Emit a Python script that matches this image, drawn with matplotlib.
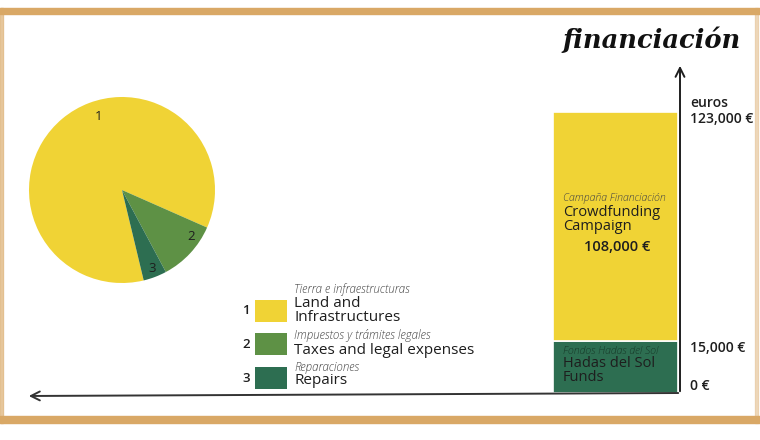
import numpy as np
import matplotlib
matplotlib.use('Agg')
import matplotlib.pyplot as plt
from matplotlib.patches import Rectangle

plt.rcParams['font.family'] = ['Open Sans', 'DejaVu Sans']

# pie: cost breakdown (euros)
cost_ids = ['1', '2', '3']
cost_values = [105000, 13000, 5000]
cost_es = ['Tierra e infraestructuras', 'Impuestos y trámites legales', 'Reparaciones']
cost_en = ['Land and\nInfrastructures', 'Taxes and legal expenses', 'Repairs']
cost_colors = ['#F0D335', '#5E9145', '#2D6E51']

# stacked bar: funding sources (euros)
fund_values = [15000, 108000]
fund_es = ['Fondos Hadas del Sol', 'Campaña Financiación']
fund_en = ['Hadas del Sol\nFunds', 'Crowdfunding\nCampaign']
fund_colors = ['#2D6E51', '#F0D335']
tick_values = [0, 15000, 123000]
tick_labels = ['0 €', '15,000 €', '123,000 €']

W, H = 760, 440
fig = plt.figure(figsize=(7.6, 4.4), dpi=100)
fig.patch.set_facecolor('white')

def px(l, t, r, b):
    return [l / W, (H - b) / H, (r - l) / W, (b - t) / H]

INK = '#1e1e1e'

# ---- pie ----
ax_pie = fig.add_axes(px(29, 97, 215, 283))
ax_pie.pie(cost_values, colors=cost_colors, startangle=-76.5, counterclock=False,
           wedgeprops=dict(linewidth=0))
ax_pie.set_xlim(-1, 1); ax_pie.set_ylim(-1, 1)
ax_pie.set_aspect('equal')
label_pos = [(108, 0.83), (-34, 0.9), (-69, 0.9)]
for lab, (ang, r) in zip(cost_ids, label_pos):
    a = np.deg2rad(ang)
    ax_pie.text(r * np.cos(a), r * np.sin(a), lab, ha='center', va='center',
                fontsize=9.5, color=INK)

# ---- stacked bar with uneven scale ----
knots_v = [0, 15000, 123000]
knots_p = [0, 52, 281]
fwd = lambda v: np.interp(v, knots_v, knots_p)
inv = lambda p: np.interp(p, knots_p, knots_v)
ax_bar = fig.add_axes(px(553, 112, 680, 393))
ax_bar.set_yscale('function', functions=(fwd, inv))
bottom = 0
for val, col in zip(fund_values, fund_colors):
    ax_bar.bar(0, val, bottom=bottom, width=0.985, align='edge', color=col,
               edgecolor='white', linewidth=1.2)
    bottom += val
ax_bar.set_xlim(0, 1)
ax_bar.set_ylim(0, sum(fund_values))
ax_bar.axis('off')
for val, lab in zip(tick_values, tick_labels):
    ax_bar.text(1.08, val, lab, transform=ax_bar.get_yaxis_transform(),
                ha='left', va='bottom' if val == 0 else 'top',
                fontsize=10, fontweight='semibold', color=INK, clip_on=False)

# ---- overlay: frame, arrows, texts ----
ov = fig.add_axes([0, 0, 1, 1])
ov.set_xlim(0, W); ov.set_ylim(H, 0)
ov.axis('off')
ov.patch.set_alpha(0)
wood = '#D9A866'
ov.add_patch(Rectangle((0, 8), W, 6, color=wood))
ov.add_patch(Rectangle((0, 416), W, 7, color=wood))
ov.add_patch(Rectangle((0, 8), 3, 415, color=wood, alpha=0.6))
ov.add_patch(Rectangle((755, 8), 3, 415, color=wood, alpha=0.4))

ov.annotate('', xy=(680, 63), xytext=(680, 394),
            arrowprops=dict(arrowstyle='->', lw=1.4, color=INK, mutation_scale=16))
ov.annotate('', xy=(26, 396), xytext=(681, 393),
            arrowprops=dict(arrowstyle='->', lw=1.4, color='#333333', mutation_scale=16))

ov.text(652, 40, 'financiación', ha='center', va='center', fontsize=18.5,
        family='DejaVu Serif', style='italic', fontweight='bold', color='#111111')
ov.text(690, 103, 'euros', ha='left', va='center', fontsize=10,
        fontweight='semibold', color=INK)

# bar texts
ov.text(563, 199, fund_es[1], ha='left', va='center', fontsize=7.6,
        style='italic', fontweight='light', color='#444444')
ov.text(563, 219.5, fund_en[1], ha='left', va='center', fontsize=10.5,
        color=INK, linespacing=0.85)
ov.text(617, 247, '108,000 €', ha='center', va='center', fontsize=10.5,
        fontweight='semibold', color=INK)
ov.text(563, 351, fund_es[0], ha='left', va='center', fontsize=7.6,
        style='italic', fontweight='light', color='#173a29')
ov.text(563, 370.5, fund_en[0], ha='left', va='center', fontsize=10.5,
        color=INK, linespacing=0.9)

# legend
rows = [(300, 289, 310.5), (333, 335, 350), (367, 368, 381)]
for i, (top, y_es, y_en) in enumerate(rows):
    ov.add_patch(Rectangle((255, top), 32, 22, color=cost_colors[i], lw=0))
    ov.text(246, top + 11, cost_ids[i], ha='center', va='center', fontsize=9.5,
            fontweight='semibold', color=INK)
    ov.text(294, y_es, cost_es[i], ha='left', va='center', fontsize=8.3,
            style='italic', fontweight='light', color='#444444')
    ov.text(294, y_en, cost_en[i], ha='left', va='center', fontsize=11,
            color=INK, linespacing=0.9)

fig.savefig('out.png', dpi=100, facecolor='white')
